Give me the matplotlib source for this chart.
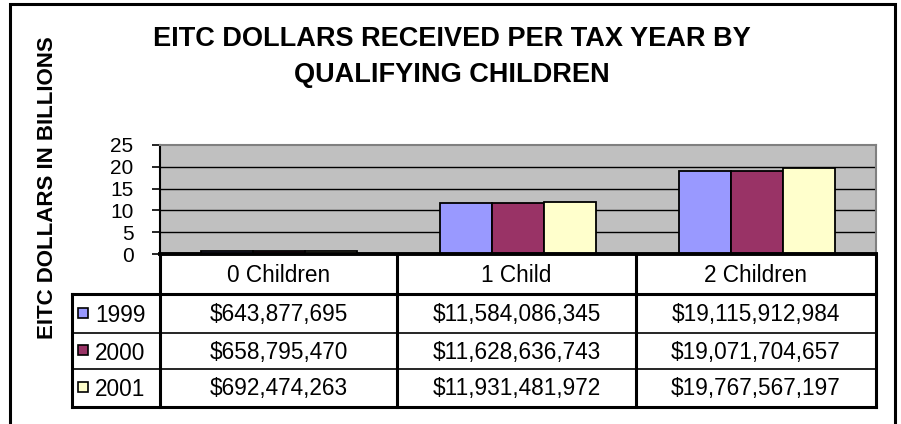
import matplotlib
matplotlib.use("Agg")
import matplotlib.pyplot as plt
from matplotlib.patches import Rectangle
from matplotlib.lines import Line2D

plt.rcParams['font.family'] = ['Liberation Sans', 'DejaVu Sans']

# ---- data ----
categories = ["0 Children", "1 Child", "2 Children"]
years = ["1999", "2000", "2001"]
values_1999 = [643877695, 11584086345, 19115912984]
values_2000 = [658795470, 11628636743, 19071704657]
values_2001 = [692474263, 11931481972, 19767567197]
series = [values_1999, values_2000, values_2001]
colors = ["#9999FF", "#993366", "#FFFFCC"]
yticks = [0, 5, 10, 15, 20, 25]
title = "EITC DOLLARS RECEIVED PER TAX YEAR BY\nQUALIFYING CHILDREN"
ylabel = "EITC DOLLARS IN BILLIONS"

W, H = 901, 424
fig = plt.figure(figsize=(W / 100, H / 100), dpi=100)


def fx(x):
    return x / W


def fy(y):
    return 1 - y / H


# outer frame
fig.add_artist(Rectangle((fx(10), fy(440)), fx(885), (440 - 4) / H, fill=False,
                         edgecolor="black", linewidth=2.2, transform=fig.transFigure))

# plot area
L, R, T, B = 160, 876, 145, 254
ax = fig.add_axes([fx(L), fy(B), fx(R - L), (B - T) / H])
ax.set_facecolor("#C0C0C0")
ax.set_xlim(-0.5, 2.5)
ax.set_ylim(0, 25)
ax.set_yticks(yticks)
ax.set_yticklabels([str(t) for t in yticks], fontsize=15)
ax.set_xticks([])
ax.tick_params(axis="y", direction="out", length=6, width=1.2, pad=13, colors="black")
for t in yticks[1:-1]:
    ax.axhline(t, color="black", linewidth=1.0, zorder=1)
ax.spines["left"].set_linewidth(1.5)
ax.spines["bottom"].set_visible(False)
ax.spines["top"].set_color("#808080")
ax.spines["right"].set_color("#808080")
ax.spines["top"].set_linewidth(1.5)
ax.spines["right"].set_linewidth(1.5)

bw = 0.218
for i, (vals, c) in enumerate(zip(series, colors)):
    xs = [k + (i - 1) * bw for k in range(len(categories))]
    ax.bar(xs, [v / 1e9 for v in vals], width=bw, color=c, edgecolor="black",
           linewidth=1.3, zorder=3)

# table
TL = 72
tax = fig.add_axes([fx(TL), fy(407), fx(R - TL), (407 - B) / H])
tax.set_xlim(TL, R)
tax.set_ylim(407, B)
tax.axis("off")
col_edges = [160, 397, 636, 876]
row_edges = [254, 294, 333, 369, 407]
lw_thick = 2.2
lw_thin = 1.2
# vertical lines
for x in col_edges:
    tax.add_line(Line2D([x, x], [row_edges[0], row_edges[-1]], color="black", lw=lw_thick,
                        clip_on=False))
tax.add_line(Line2D([TL, TL], [row_edges[1], row_edges[-1]], color="black", lw=lw_thick,
                    clip_on=False))
# horizontal lines
tax.add_line(Line2D([col_edges[0], col_edges[-1]], [row_edges[0], row_edges[0]], color="black",
                    lw=lw_thick + 0.6, clip_on=False))
tax.add_line(Line2D([TL, col_edges[-1]], [row_edges[1], row_edges[1]], color="black",
                    lw=lw_thick, clip_on=False))
for y in row_edges[2:-1]:
    tax.add_line(Line2D([TL, col_edges[-1]], [y, y], color="black", lw=lw_thin, clip_on=False))
tax.add_line(Line2D([TL, col_edges[-1]], [row_edges[-1], row_edges[-1]], color="black",
                    lw=lw_thick, clip_on=False))

for j, cat in enumerate(categories):
    cx = (col_edges[j] + col_edges[j + 1]) / 2
    cy = (row_edges[0] + row_edges[1]) / 2
    tax.text(cx, cy + 1, cat, ha="center", va="center", fontsize=16.3)
for i, (yr, vals, c) in enumerate(zip(years, series, colors)):
    cy = (row_edges[i + 1] + row_edges[i + 2]) / 2
    tax.add_patch(Rectangle((78, cy - 6), 10, 10, facecolor=c, edgecolor="black", lw=1.2))
    tax.text(95, cy + 2, yr, ha="left", va="center", fontsize=16.3)
    for j, v in enumerate(vals):
        cx = (col_edges[j] + col_edges[j + 1]) / 2
        tax.text(cx, cy + 1, f"${v:,}", ha="center", va="center", fontsize=16.3)

# title and y label
fig.text(fx(452), fy(57), title, ha="center", va="center", fontsize=19.5,
         fontweight="bold", linespacing=1.55)
fig.text(fx(48), fy(188), ylabel, ha="center", va="center", rotation=90,
         fontsize=16, fontweight="bold")

fig.savefig("out.png", dpi=100, facecolor="white")
